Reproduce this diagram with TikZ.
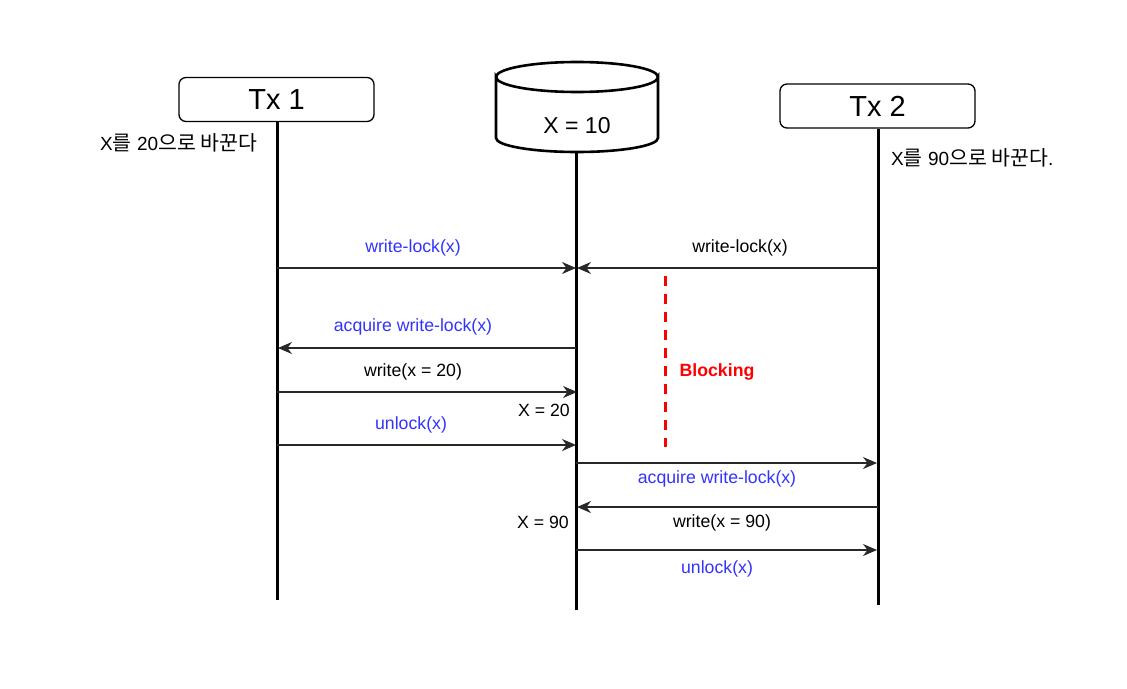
\documentclass[tikz,border=0pt]{standalone}
\usepackage{fontspec}
\setmainfont{Liberation Sans}
\newfontfamily\kr{Noto Sans CJK KR}
\usetikzlibrary{arrows.meta}
\definecolor{msgblue}{RGB}{51,51,255}
\definecolor{linegrey}{RGB}{40,40,40}
\newcommand{\krt}[1]{{\kr\fontsize{20.5}{24}\selectfont #1}}
\tikzset{
  txbox/.style={draw=black, line width=1.3pt, rounded corners=7pt, minimum width=195pt, minimum height=44pt, inner sep=0pt, font=\fontsize{29}{34}\selectfont},
  life/.style={line width=3pt, black},
  msg/.style={line width=1.7pt, draw=linegrey, -{Stealth[length=14pt,width=12pt,inset=4.5pt]}},
  lbl/.style={font=\fontsize{17.7}{21}\selectfont, inner sep=0pt},
  bluelbl/.style={lbl, text=msgblue},
  note/.style={font=\fontsize{19}{23}\selectfont, inner sep=0pt},
}
\begin{document}
\begin{tikzpicture}[x=1pt,y=-1pt]
\useasboundingbox[fill=white] (0,0) rectangle (1127,688);
% participants
\node[txbox] (tx1) at (276.5,99.5) {Tx 1};
\node[txbox] (tx2) at (877.5,106) {Tx 2};
% cylinder
\draw[line width=2.6pt, fill=white] (496,77) arc[start angle=180, end angle=0, x radius=81, y radius=15] -- (658,138) arc[start angle=0, end angle=180, x radius=81, y radius=14] -- cycle;
\draw[line width=2.6pt] (496,77) arc[start angle=180, end angle=360, x radius=81, y radius=15];
\node[inner sep=0pt, font=\fontsize{23}{27}\selectfont] (db) at (577,126) {X = 10};
\coordinate (dbtop) at (576,152);
% lifelines
\coordinate (l1end) at (277,600);
\coordinate (l2end) at (576,610);
\coordinate (l3end) at (878,605);
\draw[life] (tx1.south -| l1end) -- (l1end);
\draw[life] (dbtop) -- (l2end);
\draw[life] (tx2.south -| l3end) -- (l3end);
% notes
\node[note, anchor=west] (n1) at (100,143) {X\krt{를} 20\krt{으로 바꾼다}};
\node[note, anchor=west] (n2) at (891,158) {X\krt{를} 90\krt{으로 바꾼다}.};
% message points
\coordinate (a1) at (277,268); \coordinate (b1) at (576,268);
\coordinate (c2) at (878,268); \coordinate (b2) at (577,268);
\coordinate (b3) at (576,348); \coordinate (a3) at (278,348);
\coordinate (a4) at (277,392); \coordinate (b4) at (577,392);
\coordinate (a5) at (277,445); \coordinate (b5) at (576,445);
\coordinate (b6) at (576,463); \coordinate (c6) at (877,463);
\coordinate (c7) at (878,507); \coordinate (b7) at (577,507);
\coordinate (b8) at (576,550); \coordinate (c8) at (877,550);
\draw[msg] (a1) -- (b1);
\draw[msg] (c2) -- (b2);
\draw[msg] (b3) -- (a3);
\draw[msg] (a4) -- (b4);
\draw[msg] (a5) -- (b5);
\draw[msg] (b6) -- (c6);
\draw[msg] (c7) -- (b7);
\draw[msg] (b8) -- (c8);
% labels
\node[bluelbl] (t1) at (413,248) {write-lock(x)};
\node[lbl] (t2) at (740,248) {write-lock(x)};
\node[bluelbl] (t3) at (413,327) {acquire write-lock(x)};
\node[lbl] (t4) at (413,372) {write(x = 20)};
\node[lbl] (x20) at (544,410) {X = 20};
\node[bluelbl] (t5) at (411,425) {unlock(x)};
\node[bluelbl] (t6) at (717,479) {acquire write-lock(x)};
\node[lbl] (t7) at (722,523) {write(x = 90)};
\node[lbl] (x90) at (543,522) {X = 90};
\node[bluelbl] (t8) at (717,569) {unlock(x)};
% blocking
\coordinate (bk1) at (665,276); \coordinate (bk2) at (665,447);
\draw[red, line width=3pt, dash pattern=on 10pt off 8pt] (bk1) -- (bk2);
\node[lbl, text=red, font=\fontsize{17.7}{21}\selectfont\bfseries] (blk) at (717,372) {Blocking};
\end{tikzpicture}
\end{document}
